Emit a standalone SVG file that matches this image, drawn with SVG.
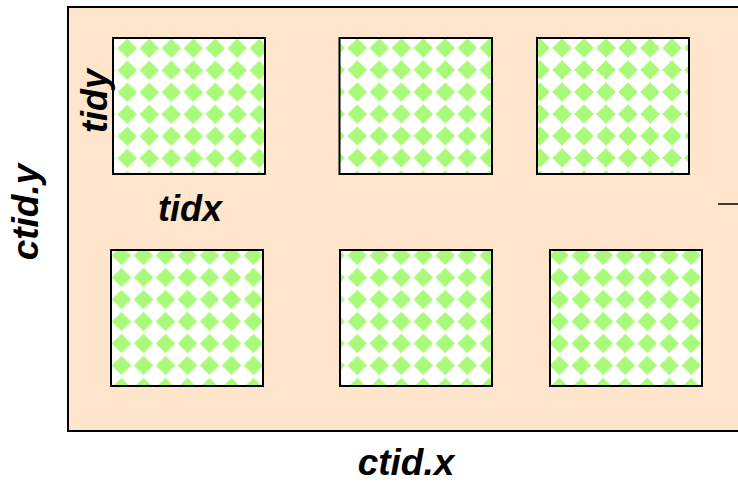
<svg xmlns="http://www.w3.org/2000/svg" xmlns:xlink="http://www.w3.org/1999/xlink" width="738" height="482" viewBox="0 0 738 482">
  <style>
    .grid { fill: #fee5cb; stroke: #000; stroke-width: 2; }
    .block { fill: url(#diamonds); stroke: #000; stroke-width: 2; }
    .label { font-family: "Liberation Sans", Arial, sans-serif; font-weight: bold; font-style: italic; fill: #000; }
    .tick { stroke: #000; stroke-width: 1.5; fill: none; }
  </style>
  <defs>
    <!-- white tile with one green diamond, repeated every 22px -->
    <pattern id="diamonds" patternUnits="userSpaceOnUse" x="0" y="0" width="22" height="22">
      <rect width="22" height="22" fill="#fff"/>
      <polygon points="11,1.2 20.8,11 11,20.8 1.2,11" fill="#aafa7a"/>
    </pattern>
  </defs>

  <!-- grid of blocks -->
  <g id="grid">
    <path class="grid" d="M739,7 H68 V431 H739"/>
  </g>

  <!-- thread blocks: each group is shifted so the pattern lines up with its box -->
  <g id="block-0-0" transform="translate(116.3,37.3)">
    <rect class="block" x="-3.3" y="0.7" width="152" height="136"/>
  </g>
  <g id="block-1-0" transform="translate(346.3,37)">
    <rect class="block" x="-6.8" y="1" width="152.5" height="136"/>
  </g>
  <g id="block-2-0" transform="translate(529,37)">
    <rect class="block" x="8" y="1" width="152" height="136"/>
  </g>
  <g id="block-0-1" transform="translate(110.5,244.5)">
    <rect class="block" x="0.5" y="5.5" width="152" height="136"/>
  </g>
  <g id="block-1-1" transform="translate(346.3,244.5)">
    <rect class="block" x="-6.3" y="5.5" width="152" height="136"/>
  </g>
  <g id="block-2-1" transform="translate(548.3,244.5)">
    <rect class="block" x="1.7" y="5.5" width="152" height="136"/>
  </g>

  <g id="connectors">
    <line class="tick" x1="718" y1="204" x2="738" y2="204"/>
  </g>

  <g id="labels">
    <text class="label" font-size="36" text-anchor="middle" transform="translate(106.5,101) rotate(-90)">tidy</text>
    <text class="label" font-size="36" x="190" y="221" text-anchor="middle">tidx</text>
    <text class="label" font-size="37" x="406" y="475" text-anchor="middle">ctid.x</text>
    <text class="label" font-size="37" text-anchor="middle" transform="translate(38,212) rotate(-90)">ctid.y</text>
  </g>
</svg>
